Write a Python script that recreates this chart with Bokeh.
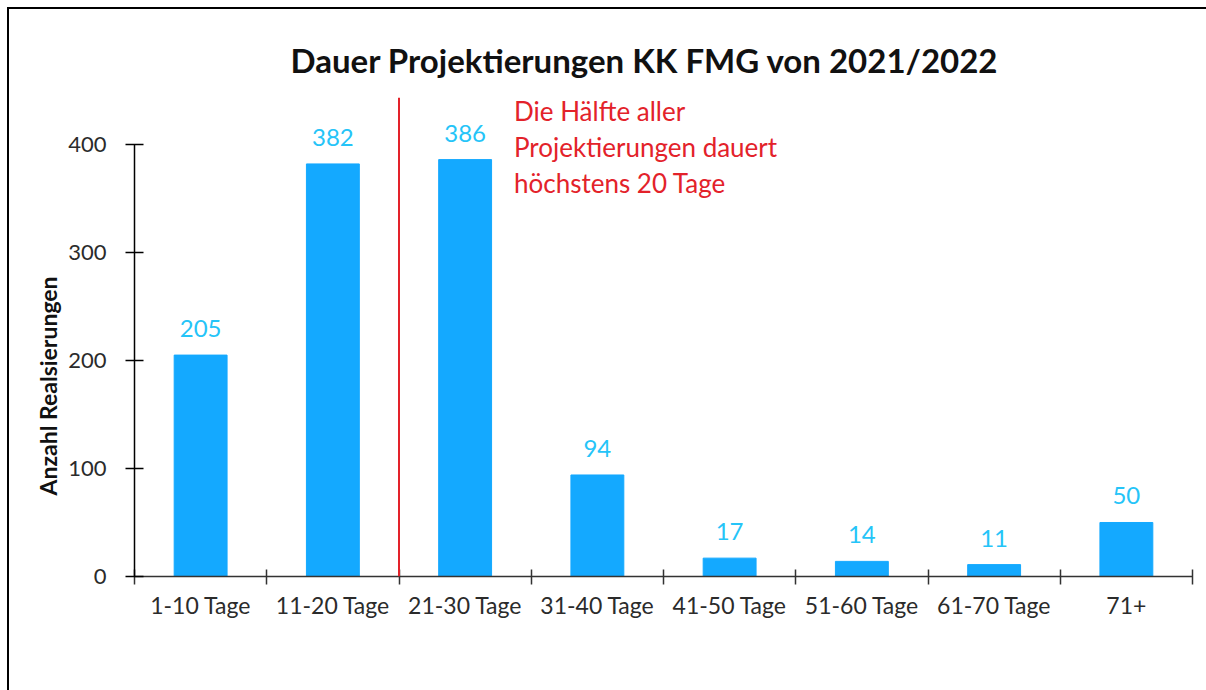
from bokeh.plotting import figure
from bokeh.models import (ColumnDataSource, FixedTicker, LabelSet, Span, Label, Range1d,
                          Title, GlobalInlineStyleSheet)
from bokeh.core.properties import value
from bokeh.embed import file_html
from bokeh.resources import INLINE

categories = ["1-10 Tage", "11-20 Tage", "21-30 Tage", "31-40 Tage",
              "41-50 Tage", "51-60 Tage", "61-70 Tage", "71+"]
counts = [205, 382, 386, 94, 17, 14, 11, 50]
y_ticks = [0, 100, 200, 300, 400]
title_text = "Dauer Projektierungen KK FMG von 2021/2022"
y_label = "Anzahl Realsierungen"
note_lines = ["Die Hälfte aller", "Projektierungen dauert", "höchstens 20 Tage"]
median_boundary = 2  # boundary between "11-20 Tage" and "21-30 Tage"

FONT = "Lato"
BAR = "#14A9FF"
LBL = "#25C4F8"
RED = "#E3222A"

n = len(categories)
centers = [i + 0.5 for i in range(n)]
bounds = list(range(n + 1))

p = figure(width=1200, height=684, output_backend="svg", toolbar_location=None,
           x_range=Range1d(0, n), y_range=Range1d(0, 443.5),
           min_border_left=125, min_border_right=17, min_border_top=88,
           min_border_bottom=117)
p.styles = {"border-top": "2px solid #000", "border-left": "2px solid #000",
            "margin-top": "7px", "margin-left": "7px"}
p.stylesheets = [GlobalInlineStyleSheet(css="html, body { overflow: hidden; }")]
p.outline_line_color = None
p.xgrid.visible = False
p.ygrid.visible = False
p.background_fill_color = "white"
p.border_fill_color = "white"

p.title.text = title_text
p.title.text_font = FONT
p.title.text_font_size = "33px"
p.title.text_font_style = "bold"
p.title.align = "left"
p.title.offset = 156
p.title.standoff = 35
p.title.text_color = "#111111"

ytitle = Title(text=y_label, align="left", offset=81, standoff=8,
               text_font=FONT, text_font_size="23px", text_font_style="bold",
               text_color="#111111")
p.add_layout(ytitle, "left")

src = ColumnDataSource(dict(x=centers, top=counts, label=[str(c) for c in counts]))
p.vbar(x="x", top="top", width=0.4, color=BAR, source=src)

labels = LabelSet(x="x", y="top", text="label", source=src, text_align="center",
                  text_baseline="alphabetic", y_offset=18, text_font=value(FONT),
                  text_font_size=value("24px"), text_color=LBL)
p.add_layout(labels)

p.add_layout(Span(location=median_boundary, dimension="height",
                  line_color=RED, line_width=2))

note = Label(x=median_boundary, y=443.5, x_offset=115, y_offset=3,
             text="\n".join(note_lines),
             text_baseline="top", text_align="left", text_line_height=1.14,
             text_font=FONT, text_font_size="26px", text_color=RED)
p.add_layout(note)

ya = p.yaxis[0]
ya.ticker = FixedTicker(ticks=y_ticks)
ya.bounds = (0, 400)
ya.major_tick_in = 9
ya.major_tick_out = 9
ya.minor_tick_line_color = None
ya.axis_line_color = "#000000"
ya.axis_line_width = 1.5
ya.major_tick_line_color = "#000000"
ya.major_tick_line_width = 1.5
ya.major_label_text_font = FONT
ya.major_label_text_font_size = "22px"
ya.major_label_text_color = "#2b2b2b"
ya.major_label_standoff = 19

xa = p.xaxis[0]
xa.ticker = FixedTicker(ticks=centers, minor_ticks=bounds)
xa.major_label_overrides = {c: cat for c, cat in zip(centers, categories)}
xa.bounds = (0, n)
xa.major_tick_in = 0
xa.major_tick_out = 0
xa.minor_tick_in = 7
xa.minor_tick_out = 8
xa.minor_tick_line_color = "#333333"
xa.minor_tick_line_width = 1.5
xa.axis_line_color = "#333333"
xa.axis_line_width = 1.5
xa.major_label_text_font = FONT
xa.major_label_text_font_size = "23px"
xa.major_label_text_color = "#2b2b2b"
xa.major_label_standoff = 6

open("out.html", "w").write(file_html(p, INLINE))
